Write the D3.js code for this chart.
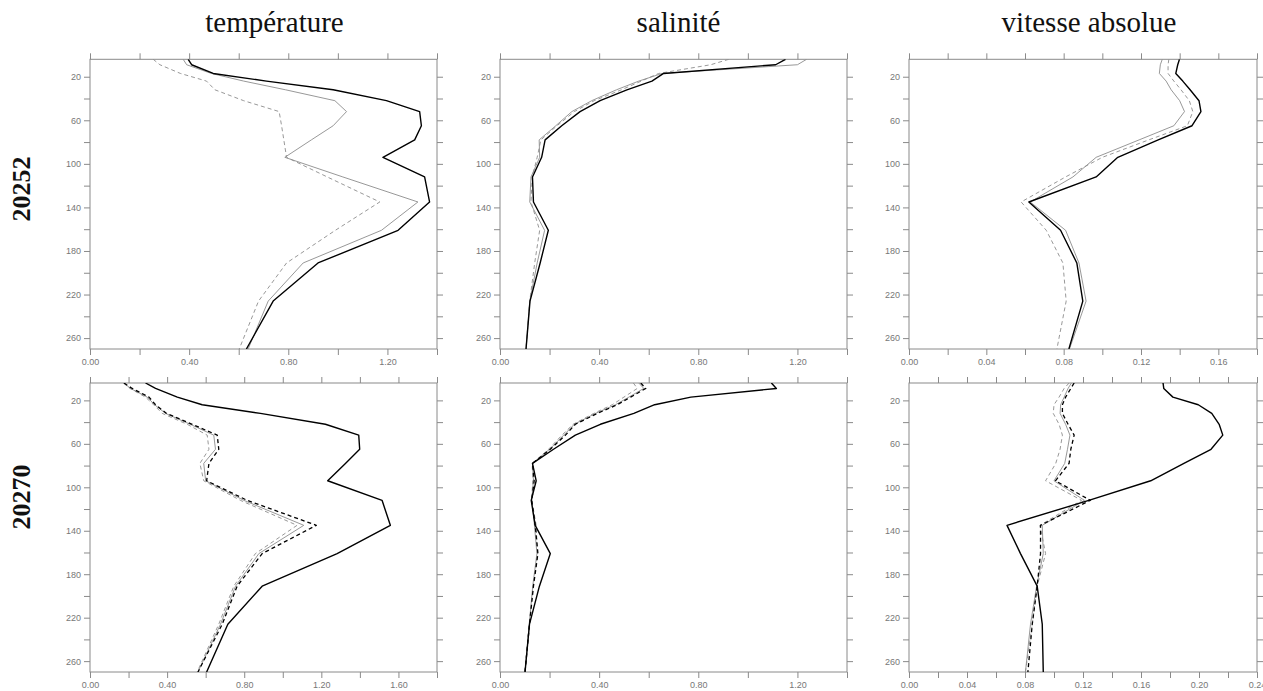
<!DOCTYPE html>
<html><head><meta charset="utf-8">
<script src="https://cdn.jsdelivr.net/npm/d3@7"></script>
<style>body{margin:0;background:#fff}svg{display:block}</style>
</head><body>
<svg id="c" width="1263" height="691"></svg>
<script>
const depths = [4, 9, 17, 24, 32, 42, 52, 65, 78, 94, 112, 135, 161, 191, 226, 270];
const columnTitles = ["température", "salinité", "vitesse absolue"];
const rowLabels = ["20252", "20270"];
const depthTicks = [20, 40, 60, 80, 100, 120, 140, 160, 180, 200, 220, 240, 260];
const depthLabels = [20, 60, 100, 140, 180, 220, 260];

// row 1 (20252)
const t1Black = [0.396, 0.41, 0.497, 0.712, 0.981, 1.196, 1.33, 1.337, 1.31, 1.182, 1.35, 1.37, 1.243, 0.92, 0.739, 0.631];
const t1Gray  = [0.376, 0.39, 0.49, 0.62, 0.789, 0.988, 1.035, 0.981, 0.893, 0.786, 1.02, 1.323, 1.176, 0.86, 0.719, 0.638];
const t1Dash  = [0.255, 0.282, 0.365, 0.47, 0.504, 0.62, 0.763, 0.773, 0.782, 0.793, 0.957, 1.169, 0.99, 0.793, 0.68, 0.602];
const s1Black = [1.152, 1.112, 0.66, 0.613, 0.512, 0.404, 0.323, 0.249, 0.182, 0.168, 0.131, 0.135, 0.195, 0.162, 0.121, 0.105];
const s1Gray  = [1.237, 1.2, 0.654, 0.56, 0.47, 0.37, 0.29, 0.225, 0.158, 0.16, 0.125, 0.12, 0.18, 0.15, 0.12, 0.105];
const s1Dash  = [0.923, 0.85, 0.64, 0.57, 0.49, 0.38, 0.3, 0.23, 0.165, 0.15, 0.13, 0.125, 0.16, 0.14, 0.12, 0.105];
const v1Black = [0.1399, 0.139, 0.138, 0.1416, 0.1454, 0.150, 0.151, 0.1464, 0.1289, 0.108, 0.0968, 0.062, 0.0784, 0.0868, 0.0899, 0.0827];
const v1Gray  = [0.131, 0.130, 0.1295, 0.133, 0.1356, 0.140, 0.1425, 0.137, 0.119, 0.0968, 0.0848, 0.0627, 0.081, 0.0879, 0.0916, 0.083];
const v1Dash  = [0.1344, 0.134, 0.134, 0.137, 0.1407, 0.145, 0.1468, 0.144, 0.124, 0.100, 0.081, 0.058, 0.071, 0.0796, 0.0813, 0.0765];
// row 2 (20270)
const t2Black = [0.288, 0.34, 0.453, 0.582, 0.884, 1.221, 1.394, 1.399, 1.325, 1.233, 1.515, 1.558, 1.282, 0.893, 0.715, 0.605];
const t2BDash = [0.176, 0.219, 0.306, 0.34, 0.397, 0.53, 0.66, 0.668, 0.617, 0.605, 0.815, 1.174, 0.893, 0.763, 0.686, 0.56];
const t2Gray  = [0.176, 0.21, 0.297, 0.335, 0.392, 0.52, 0.642, 0.651, 0.59, 0.6, 0.798, 1.109, 0.876, 0.755, 0.677, 0.56];
const t2Dash  = [0.173, 0.207, 0.288, 0.33, 0.375, 0.504, 0.608, 0.617, 0.57, 0.59, 0.78, 1.074, 0.858, 0.746, 0.668, 0.556];
const s2Black = [1.095, 1.115, 0.77, 0.624, 0.54, 0.405, 0.304, 0.216, 0.131, 0.146, 0.126, 0.142, 0.203, 0.159, 0.119, 0.101];
const s2BDash = [0.568, 0.588, 0.527, 0.473, 0.392, 0.304, 0.264, 0.203, 0.131, 0.138, 0.128, 0.142, 0.153, 0.135, 0.119, 0.101];
const s2Gray  = [0.56, 0.58, 0.52, 0.466, 0.385, 0.3, 0.257, 0.2, 0.131, 0.135, 0.128, 0.139, 0.149, 0.132, 0.118, 0.101];
const s2Dash  = [0.538, 0.554, 0.5, 0.453, 0.378, 0.295, 0.25, 0.196, 0.13, 0.132, 0.128, 0.146, 0.151, 0.134, 0.118, 0.1];
const v2Black = [0.1752, 0.1757, 0.182, 0.1995, 0.2088, 0.2139, 0.2164, 0.2083, 0.1896, 0.1667, 0.124, 0.0676, 0.0769, 0.0884, 0.0919, 0.0926];
const v2BDash = [0.1139, 0.1116, 0.108, 0.1058, 0.1058, 0.1097, 0.1139, 0.1116, 0.1104, 0.101, 0.125, 0.0907, 0.0907, 0.0884, 0.085, 0.082];
const v2Gray  = [0.112, 0.1097, 0.107, 0.1046, 0.1042, 0.108, 0.111, 0.1093, 0.1074, 0.1, 0.121, 0.0919, 0.0926, 0.088, 0.0838, 0.0803];
const v2Dash  = [0.1104, 0.107, 0.1035, 0.1, 0.0995, 0.1035, 0.1058, 0.1042, 0.1012, 0.0942, 0.119, 0.0903, 0.0942, 0.0884, 0.085, 0.0803];

const xMax = [[1.4, 1.4, 0.18], [1.8, 1.4, 0.24]];
const xStep = [[0.2, 0.2, 0.02], [0.2, 0.2, 0.02]];

const panels = [
  [ {gd: t1Dash, g: t1Gray, b: t1Black}, {gd: s1Dash, g: s1Gray, b: s1Black}, {gd: v1Dash, g: v1Gray, b: v1Black} ],
  [ {gd: t2Dash, g: t2Gray, bd: t2BDash, b: t2Black}, {gd: s2Dash, g: s2Gray, bd: s2BDash, b: s2Black}, {gd: v2Dash, g: v2Gray, bd: v2BDash, b: v2Black} ]
];

const styles = {
  gd: {stroke: "#8c8c8c", width: 0.9, dash: "4,3"},
  g:  {stroke: "#8c8c8c", width: 0.9, dash: null},
  bd: {stroke: "#000", width: 1.3, dash: "4,3"},
  b:  {stroke: "#000", width: 1.4, dash: null}
};

const svg = d3.select("#c");
const lefts = [90, 500, 909];
const widths = [347, 347, 348];
const rowsY = [[59.3, 349], [383, 672]];
const frameColor = "#8a8a8a";
const tickFont = "'Liberation Sans', Arial, sans-serif";
const titleShift = [11, 5, 6];

// column titles
columnTitles.forEach((t, i) => {
  svg.append("text").attr("x", lefts[i] + widths[i] / 2 + titleShift[i]).attr("y", 32)
    .attr("text-anchor", "middle")
    .style("font-family", "'Liberation Serif', 'DejaVu Serif', serif")
    .style("font-size", "29px").style("fill", "#111").text(t);
});
// row labels
const rowCenters = [189, 497];
rowLabels.forEach((t, r) => {
  svg.append("text").attr("transform", `translate(30,${rowCenters[r]}) rotate(-90)`)
    .attr("text-anchor", "middle")
    .style("font-family", "'Liberation Serif', 'DejaVu Serif', serif")
    .style("font-weight", "bold").style("font-size", "26px").style("fill", "#111").text(t);
});

panels.forEach((row, r) => {
  row.forEach((p, c) => {
    const x0 = lefts[c], x1 = lefts[c] + widths[c];
    const [y0, y1] = rowsY[r];
    const x = d3.scaleLinear().domain([0, xMax[r][c]]).range([x0, x1]);
    const y = d3.scaleLinear().domain([4, 270]).range([y0, y1]);
    const g = svg.append("g");
    const n = Math.round(xMax[r][c] / xStep[r][c]);
    const xt = d3.range(0, n + 1).map(i => +(i * xStep[r][c]).toFixed(4));
    const fmt = d3.format(".2f");

    const bottom = g.append("g").attr("transform", `translate(0,${y1})`)
      .call(d3.axisBottom(x).tickValues(xt).tickSize(6).tickPadding(4)
        .tickFormat((d, i) => i % 2 === 0 ? fmt(d) : ""));
    const top = g.append("g").attr("transform", `translate(0,${y0})`)
      .call(d3.axisTop(x).tickValues(xt).tickSize(6).tickFormat(""));
    const left = g.append("g").attr("transform", `translate(${x0},0)`)
      .call(d3.axisLeft(y).tickValues(depthTicks).tickSize(6).tickPadding(3)
        .tickFormat(d => depthLabels.includes(d) ? d : ""));
    const right = g.append("g").attr("transform", `translate(${x1},0)`)
      .call(d3.axisRight(y).tickValues(depthTicks).tickSize(6).tickFormat(""));
    [bottom, top, left, right].forEach(a => {
      a.select(".domain").remove();
      a.selectAll(".tick line").attr("stroke", frameColor).attr("stroke-width", 1);
      a.selectAll(".tick text").style("font-family", tickFont).style("font-size", "9px").style("fill", "#777");
    });
    g.append("rect").attr("x", x0).attr("y", y0).attr("width", x1 - x0).attr("height", y1 - y0)
      .attr("fill", "none").attr("stroke", frameColor).attr("stroke-width", 1);

    const clipId = `clip${r}${c}`;
    svg.append("clipPath").attr("id", clipId).append("rect")
      .attr("x", x0).attr("y", y0).attr("width", x1 - x0).attr("height", y1 - y0);
    const line = d3.line().x(d => x(d[0])).y(d => y(d[1]));
    ["gd", "g", "bd", "b"].forEach(k => {
      if (!p[k]) return;
      const st = styles[k];
      g.append("path").datum(p[k].map((v, i) => [v, depths[i]]))
        .attr("clip-path", `url(#${clipId})`)
        .attr("d", line).attr("fill", "none")
        .attr("stroke", st.stroke).attr("stroke-width", st.width)
        .attr("stroke-dasharray", st.dash).attr("stroke-linejoin", "round");
    });
  });
});
</script>
</body></html>
